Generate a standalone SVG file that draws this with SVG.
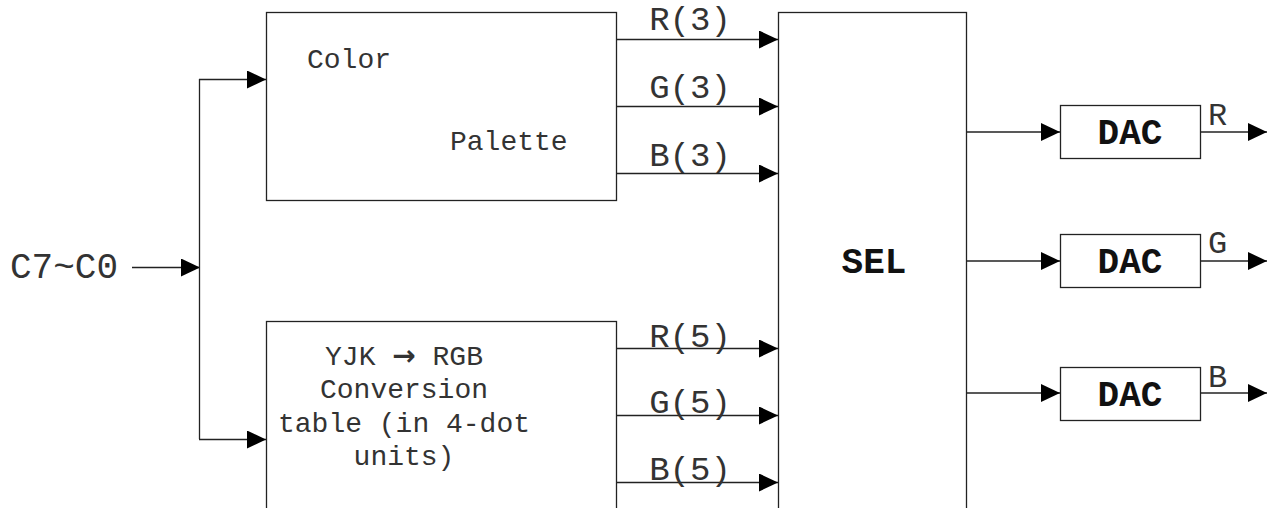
<svg xmlns="http://www.w3.org/2000/svg" width="1271" height="508" viewBox="0 0 1271 508">
<style>
.box{fill:#fff;stroke:#222;stroke-width:1.3}
.ln{fill:none;stroke:#222;stroke-width:1.3}
.t{font-family:"Liberation Mono","Courier New",monospace;fill:#333}
.b{font-family:"Liberation Mono","Courier New",monospace;font-weight:bold;fill:#111}
</style>
<defs>
<marker id="ah" viewBox="0 0 19 18" refX="19" refY="9" markerWidth="19" markerHeight="18" markerUnits="userSpaceOnUse" orient="auto">
<polygon points="0,0 19,9 0,18" fill="#000"/>
</marker>
</defs>
<g id="palette">
<rect class="box" x="266.5" y="12.5" width="350" height="188"/>
<text class="t" x="307" y="68" font-size="28">Color</text>
<text class="t" x="450" y="150" font-size="28">Palette</text>
</g>
<g id="yjk">
<rect class="box" x="266.5" y="321.5" width="350" height="200"/>
<text class="t" x="404" y="365" font-size="28" text-anchor="middle">YJK <tspan font-family="DejaVu Sans,sans-serif" font-weight="bold">→</tspan> RGB</text>
<text class="t" x="404" y="398" font-size="28" text-anchor="middle">Conversion</text>
<text class="t" x="404" y="432" font-size="28" text-anchor="middle">table (in 4-dot</text>
<text class="t" x="404" y="465" font-size="28" text-anchor="middle">units)</text>
</g>
<g id="sel">
<rect class="box" x="778.5" y="12.5" width="188" height="520"/>
<text class="b" x="874" y="273" font-size="36" text-anchor="middle">SEL</text>
</g>
<g id="dacR">
<rect class="box" x="1060.5" y="105.5" width="140" height="53"/>
<text class="b" x="1130" y="144" font-size="36" text-anchor="middle">DAC</text>
</g>
<g id="dacG">
<rect class="box" x="1060.5" y="234.5" width="140" height="53"/>
<text class="b" x="1130" y="273" font-size="36" text-anchor="middle">DAC</text>
</g>
<g id="dacB">
<rect class="box" x="1060.5" y="367.5" width="140" height="53"/>
<text class="b" x="1130" y="406" font-size="36" text-anchor="middle">DAC</text>
</g>
<g id="input">
<text class="t" x="10" y="278" font-size="36">C7~C0</text>
</g>
<g id="connectors">
<line class="ln" x1="132" y1="267.5" x2="200" y2="267.5" marker-end="url(#ah)"/>
<line class="ln" x1="199.5" y1="79" x2="199.5" y2="439"/>
<line class="ln" x1="199" y1="79.5" x2="266" y2="79.5" marker-end="url(#ah)"/>
<line class="ln" x1="199" y1="439.5" x2="266" y2="439.5" marker-end="url(#ah)"/>
<line class="ln" x1="616" y1="39.5" x2="778" y2="39.5" marker-end="url(#ah)"/>
<line class="ln" x1="616" y1="106.5" x2="778" y2="106.5" marker-end="url(#ah)"/>
<line class="ln" x1="616" y1="173.5" x2="778" y2="173.5" marker-end="url(#ah)"/>
<line class="ln" x1="616" y1="348.5" x2="778" y2="348.5" marker-end="url(#ah)"/>
<line class="ln" x1="616" y1="415.5" x2="778" y2="415.5" marker-end="url(#ah)"/>
<line class="ln" x1="616" y1="482.5" x2="778" y2="482.5" marker-end="url(#ah)"/>
<text class="t" x="690" y="30" font-size="34" text-anchor="middle">R(3)</text>
<text class="t" x="690" y="98" font-size="34" text-anchor="middle">G(3)</text>
<text class="t" x="690" y="166" font-size="34" text-anchor="middle">B(3)</text>
<text class="t" x="690" y="347" font-size="34" text-anchor="middle">R(5)</text>
<text class="t" x="690" y="413" font-size="34" text-anchor="middle">G(5)</text>
<text class="t" x="690" y="480" font-size="34" text-anchor="middle">B(5)</text>
<line class="ln" x1="966" y1="132" x2="1060" y2="132" marker-end="url(#ah)"/>
<line class="ln" x1="966" y1="261" x2="1060" y2="261" marker-end="url(#ah)"/>
<line class="ln" x1="966" y1="393" x2="1060" y2="393" marker-end="url(#ah)"/>
<line class="ln" x1="1200" y1="132" x2="1267" y2="132" marker-end="url(#ah)"/>
<line class="ln" x1="1200" y1="261" x2="1267" y2="261" marker-end="url(#ah)"/>
<line class="ln" x1="1200" y1="393" x2="1267" y2="393" marker-end="url(#ah)"/>
<text class="t" x="1208" y="125" font-size="32">R</text>
<text class="t" x="1208" y="253" font-size="32">G</text>
<text class="t" x="1208" y="387" font-size="32">B</text>
</g>
</svg>
